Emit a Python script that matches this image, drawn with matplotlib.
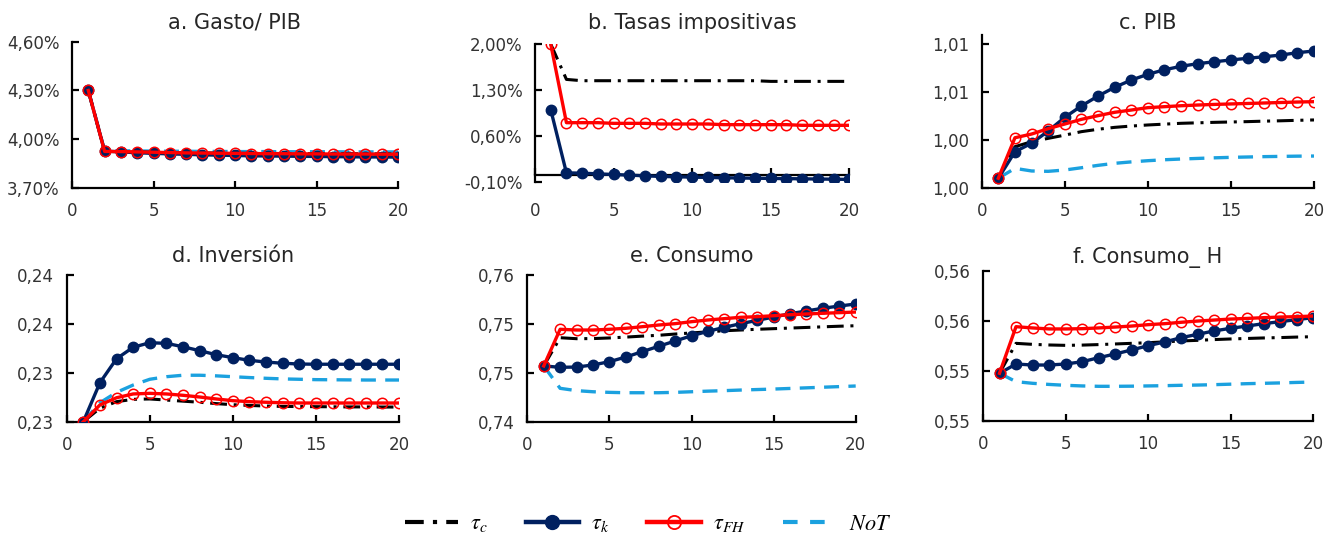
import matplotlib
matplotlib.use("Agg")
import matplotlib.pyplot as plt
from matplotlib.ticker import FuncFormatter
from matplotlib.lines import Line2D

plt.rcParams['font.family'] = ['DejaVu Sans']
plt.rcParams['mathtext.fontset'] = 'stix'

periods = list(range(1, 21))

# a. Gasto/PIB (%)
a_tc  = [4.30, 3.925, 3.924, 3.922, 3.920, 3.918, 3.917, 3.916, 3.915, 3.914, 3.913, 3.913, 3.912, 3.912, 3.911, 3.911, 3.911, 3.910, 3.910, 3.910]
a_tk  = [4.30, 3.927, 3.922, 3.917, 3.913, 3.910, 3.907, 3.904, 3.902, 3.900, 3.898, 3.897, 3.896, 3.895, 3.894, 3.893, 3.892, 3.891, 3.891, 3.890]
a_tfh = [4.30, 3.925, 3.924, 3.922, 3.920, 3.918, 3.916, 3.915, 3.914, 3.913, 3.912, 3.911, 3.911, 3.910, 3.910, 3.909, 3.909, 3.909, 3.908, 3.908]
a_not = [4.30, 3.930, 3.929, 3.928, 3.927, 3.926, 3.926, 3.925, 3.925, 3.924, 3.924, 3.924, 3.923, 3.923, 3.923, 3.923, 3.922, 3.922, 3.922, 3.922]

# b. Tasas impositivas (%)
b_tc  = [2.00, 1.46, 1.44, 1.44, 1.44, 1.44, 1.44, 1.44, 1.44, 1.44, 1.44, 1.44, 1.44, 1.44, 1.43, 1.43, 1.43, 1.43, 1.43, 1.43]
b_tk  = [1.00, 0.035, 0.03, 0.02, 0.01, 0.0, -0.01, -0.02, -0.025, -0.03, -0.035, -0.04, -0.043, -0.047, -0.05, -0.053, -0.056, -0.059, -0.062, -0.065]
b_tfh = [2.00, 0.80, 0.80, 0.80, 0.79, 0.79, 0.79, 0.78, 0.78, 0.78, 0.78, 0.77, 0.77, 0.77, 0.77, 0.77, 0.76, 0.76, 0.76, 0.76]

# c. PIB
c_tc  = [1.00079, 1.00343, 1.00385, 1.00413, 1.00440, 1.00469, 1.00489, 1.00505, 1.00516, 1.00525, 1.00532, 1.00539, 1.00543, 1.00547, 1.00550, 1.00553, 1.00557, 1.00560, 1.00564, 1.00567]
c_tk  = [1.00079, 1.00301, 1.00372, 1.00474, 1.00589, 1.00684, 1.00767, 1.00840, 1.00901, 1.00949, 1.00987, 1.01016, 1.01038, 1.01054, 1.01069, 1.01083, 1.01096, 1.01110, 1.01130, 1.01144]
c_tfh = [1.00079, 1.00418, 1.00449, 1.00494, 1.00533, 1.00572, 1.00603, 1.00631, 1.00650, 1.00670, 1.00678, 1.00686, 1.00692, 1.00697, 1.00701, 1.00705, 1.00709, 1.00713, 1.00717, 1.00720]
c_not = [1.00079, 1.00162, 1.00140, 1.00137, 1.00148, 1.00167, 1.00187, 1.00204, 1.00216, 1.00226, 1.00234, 1.00240, 1.00245, 1.00250, 1.00254, 1.00257, 1.00260, 1.00262, 1.00264, 1.00265]

# d. Inversión
d_tc  = [0.2280, 0.22910, 0.22964, 0.22983, 0.22986, 0.22977, 0.22968, 0.22959, 0.22948, 0.22939, 0.22933, 0.22928, 0.22925, 0.22924, 0.22923, 0.22922, 0.22921, 0.22921, 0.22920, 0.22920]
d_tk  = [0.2280, 0.23119, 0.23315, 0.23409, 0.23446, 0.23441, 0.23413, 0.23381, 0.23348, 0.23324, 0.23302, 0.23288, 0.23278, 0.23272, 0.23270, 0.23270, 0.23270, 0.23270, 0.23270, 0.23270]
d_tfh = [0.2280, 0.22937, 0.22996, 0.23027, 0.23032, 0.23027, 0.23016, 0.23002, 0.22986, 0.22972, 0.22964, 0.22959, 0.22955, 0.22953, 0.22953, 0.22953, 0.22953, 0.22953, 0.22953, 0.22953]
d_not = [0.2280, 0.22955, 0.23040, 0.23100, 0.23147, 0.23168, 0.23180, 0.23180, 0.23175, 0.23168, 0.23161, 0.23155, 0.23150, 0.23147, 0.23144, 0.23143, 0.23142, 0.23141, 0.23141, 0.23141]

# e. Consumo
e_tc  = [0.74856, 0.75087, 0.75079, 0.75080, 0.75085, 0.75092, 0.75100, 0.75107, 0.75117, 0.75126, 0.75135, 0.75144, 0.75150, 0.75156, 0.75161, 0.75166, 0.75171, 0.75176, 0.75181, 0.75185]
e_tk  = [0.74856, 0.74845, 0.74847, 0.74864, 0.74891, 0.74929, 0.74973, 0.75017, 0.75060, 0.75103, 0.75139, 0.75172, 0.75202, 0.75229, 0.75256, 0.75283, 0.75306, 0.75328, 0.75346, 0.75363]
e_tfh = [0.74856, 0.75156, 0.75150, 0.75150, 0.75156, 0.75164, 0.75177, 0.75191, 0.75202, 0.75218, 0.75232, 0.75243, 0.75254, 0.75259, 0.75267, 0.75275, 0.75281, 0.75287, 0.75292, 0.75297]
e_not = [0.74856, 0.74673, 0.74654, 0.74645, 0.74640, 0.74637, 0.74637, 0.74637, 0.74640, 0.74645, 0.74650, 0.74654, 0.74659, 0.74663, 0.74667, 0.74672, 0.74677, 0.74682, 0.74687, 0.74692]

# f. Consumo_H
f_tc  = [0.55181, 0.55420, 0.55412, 0.55407, 0.55404, 0.55406, 0.55410, 0.55415, 0.55420, 0.55425, 0.55432, 0.55439, 0.55444, 0.55450, 0.55455, 0.55459, 0.55463, 0.55466, 0.55470, 0.55473]
f_tk  = [0.55181, 0.55255, 0.55247, 0.55247, 0.55255, 0.55273, 0.55305, 0.55335, 0.55367, 0.55401, 0.55431, 0.55465, 0.55492, 0.55519, 0.55540, 0.55558, 0.55577, 0.55593, 0.55609, 0.55625]
f_tfh = [0.55181, 0.55553, 0.55543, 0.55535, 0.55535, 0.55537, 0.55543, 0.55550, 0.55558, 0.55569, 0.55577, 0.55588, 0.55598, 0.55606, 0.55614, 0.55619, 0.55625, 0.55630, 0.55633, 0.55638]
f_not = [0.55181, 0.55114, 0.55101, 0.55092, 0.55085, 0.55080, 0.55077, 0.55077, 0.55078, 0.55080, 0.55082, 0.55085, 0.55087, 0.55090, 0.55094, 0.55098, 0.55101, 0.55104, 0.55108, 0.55111]

titles = ["a. Gasto/ PIB", "b. Tasas impositivas", "c. PIB", "d. Inversión", "e. Consumo", "f. Consumo_ H"]
legend_labels = [r"$\tau_c$", r"$\tau_k$", r"$\tau_{FH}$", r"$NoT$"]
xticks = [0, 5, 10, 15, 20]

NAVY = "#002060"
RED = "#FF0000"
CYAN = "#1BA1DF"
TXT = "#333333"
TC_DASH = (0, (5.5, 2.2, 1.0, 2.2))
NOT_DASH = (0, (4.5, 2.8))

W, H = 1333, 540
PX2PT = 72 / 100
fig = plt.figure(figsize=(W / 100, H / 100), dpi=100)

def add_ax(left, right, top, bottom):
    return fig.add_axes([left / W, 1 - bottom / H, (right - left) / W, (bottom - top) / H])

panels = [
    dict(box=(72, 398, 41.7, 188), base=29, data=[a_tc, a_tk, a_tfh, a_not], ylim=(3.70, 4.60), yticks=[3.70, 4.00, 4.30, 4.60], fmt="{:.2f}%"),
    dict(box=(535, 849.3, 44, 181.7), base=29, data=[b_tc, b_tk, b_tfh, None], ylim=(-0.10, 2.00), yticks=[-0.10, 0.60, 1.30, 2.00], fmt="{:.2f}%"),
    dict(box=(981.7, 1314, 35, 187.7), base=29, data=[c_tc, c_tk, c_tfh, c_not], ylim=(1.000, 1.01278), yticks=[1.000, 1.004, 1.008, 1.012], fmt="{:.2f}"),
    dict(box=(66.7, 399, 275, 421.7), base=262.5, data=[d_tc, d_tk, d_tfh, d_not], ylim=(0.228, 0.240), yticks=[0.228, 0.232, 0.236, 0.240], fmt="{:.2f}"),
    dict(box=(527.3, 855.7, 275, 421.7), base=262.5, data=[e_tc, e_tk, e_tfh, e_not], ylim=(0.744, 0.756), yticks=[0.744, 0.748, 0.752, 0.756], fmt="{:.2f}"),
    dict(box=(983, 1313, 270.7, 421), base=262.5, data=[f_tc, f_tk, f_tfh, f_not], ylim=(0.548, 0.560), yticks=[0.548, 0.552, 0.556, 0.560], fmt="{:.2f}"),
]

for i, p in enumerate(panels):
    ax = add_ax(*p["box"])
    tc, tk, tfh, nt = p["data"]
    ax.plot(periods, tc, color="black", lw=2.2, linestyle=TC_DASH, zorder=3)
    if nt is not None:
        ax.plot(periods, nt, color=CYAN, lw=2.4, linestyle=NOT_DASH, zorder=2)
    ax.plot(periods, tk, color=NAVY, lw=2.4, marker="o", markersize=7.5,
            markerfacecolor=NAVY, markeredgecolor=NAVY, zorder=4)
    ax.plot(periods, tfh, color=RED, lw=2.4, marker="o", markersize=7.5,
            markerfacecolor="none", markeredgecolor=RED, markeredgewidth=1.1, zorder=5)
    ax.set_xlim(0, 20)
    ax.set_ylim(*p["ylim"])
    ax.set_yticks(p["yticks"])
    fmt = p["fmt"]
    ax.yaxis.set_major_formatter(FuncFormatter(lambda v, pos, f=fmt: f.format(v).replace(".", ",")))
    ax.set_xticks(xticks)
    for s in ["top", "right"]:
        ax.spines[s].set_visible(False)
    for s in ["left", "bottom"]:
        ax.spines[s].set_linewidth(1.6)
        ax.spines[s].set_color("black")
    ax.tick_params(axis="both", direction="in", length=5, width=1.6, color="black",
                   labelsize=12, labelcolor=TXT)
    ax.tick_params(axis="x", pad=10)
    ax.tick_params(axis="y", pad=9)
    top = p["box"][2]
    ax.set_title(titles[i], fontsize=15, color="#262626", pad=(top - p["base"]) * PX2PT)
    ax.patch.set_alpha(0)
    if i == 1:
        ax.spines["bottom"].set_position(("data", 0))
        ax.tick_params(axis="x", labelbottom=False)
        sec = ax.secondary_xaxis(-0.046)
        sec.set_xticks(xticks)
        sec.spines["bottom"].set_visible(False)
        sec.tick_params(axis="x", length=0, labelsize=12, labelcolor=TXT, pad=10)

leg_handles = [
    Line2D([], [], color="black", lw=3.0, linestyle=(0, (4.5, 2.2, 1.0, 2.2))),
    Line2D([], [], color=NAVY, lw=3.2, marker="o", markersize=10, markerfacecolor=NAVY, markeredgecolor=NAVY),
    Line2D([], [], color=RED, lw=3.2, marker="o", markersize=9.5, markerfacecolor="none",
           markeredgecolor=RED, markeredgewidth=1.3),
    Line2D([], [], color=CYAN, lw=3.0, linestyle=(0, (3.5, 3.0))),
]
fig.legend(leg_handles, legend_labels, loc="center", bbox_to_anchor=(648 / W, 1 - 524 / H),
           ncol=4, frameon=False, fontsize=16, handlelength=2.4, columnspacing=1.7,
           handletextpad=0.55)

fig.savefig("out.png", dpi=100)
